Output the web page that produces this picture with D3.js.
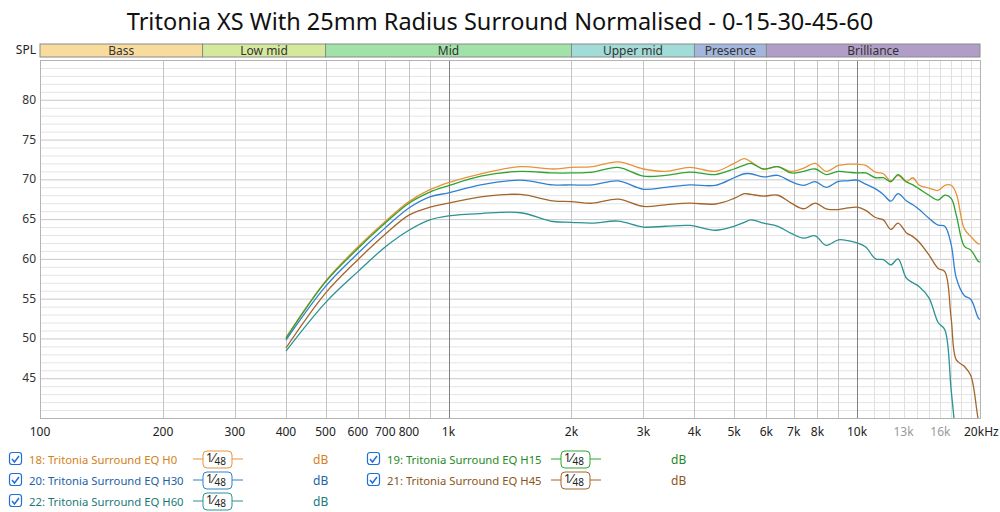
<!DOCTYPE html>
<html>
<head>
<meta charset="utf-8">
<script src="https://cdn.jsdelivr.net/npm/d3@7"></script>
<style>
  body { margin: 0; background: #fff; }
  svg { font-family: "Noto Sans", "Open Sans", sans-serif; }
</style>
</head>
<body>
<div id="chart"></div>
<script>
// frequencies (Hz) shared by every curve
const freqs = [400, 500, 600, 700, 800, 900, 1000, 1200, 1500, 1800, 2000, 2250, 2600, 3000, 3400, 3900,
  4500, 5000, 5300, 5500, 5900, 6400, 6900, 7400, 7900, 8400, 9000, 9500, 10000, 10500, 11100, 11600,
  12100, 12600, 13200, 13700, 14200, 15000, 15800, 16400, 17000, 17500, 18300, 19000, 19800, 20000]

const h0 = [50.1, 57.2, 61.5, 64.7, 67.2, 68.7, 69.6, 70.7, 71.6, 71.3, 71.5, 71.6, 72.2, 71.3, 71.0, 71.5,
  71.0, 72.0, 72.6, 72.2, 71.3, 71.6, 71.0, 71.4, 72.0, 71.0, 71.75, 71.9, 71.9, 71.75, 70.9, 70.7,
  69.8, 70.5, 69.7, 70.2, 69.25, 68.9, 68.6, 69.25, 69.25, 68.2, 63.8, 62.8, 61.9, 61.9]
const h15 = [50.0, 57.1, 61.3, 64.5, 67.0, 68.4, 69.2, 70.4, 71.0, 70.8, 70.8, 70.9, 71.5, 70.4, 70.5, 70.9,
  70.6, 71.3, 71.8, 72.0, 71.3, 71.6, 70.8, 71.0, 71.3, 70.6, 71.0, 70.9, 70.8, 70.8, 70.2, 70.2,
  69.7, 70.6, 69.7, 69.3, 68.8, 68.0, 67.4, 68.0, 67.6, 65.5, 61.6, 61.1, 59.7, 59.6]
const h30 = [49.8, 56.55, 60.7, 63.9, 66.4, 67.8, 68.3, 69.3, 69.9, 69.3, 69.3, 69.3, 69.8, 68.75, 69.0, 69.3,
  69.25, 70.2, 70.7, 70.7, 70.3, 70.5, 69.7, 69.25, 69.7, 69.0, 69.75, 69.8, 69.9, 69.4, 68.8, 68.1,
  67.25, 68.2, 67.3, 66.8, 66.2, 65.1, 64.25, 64.1, 61.8, 57.6, 55.4, 54.9, 52.6, 52.4]
const h45 = [48.8, 55.7, 59.9, 63.1, 65.5, 66.5, 67.0, 67.8, 68.1, 67.3, 67.2, 67.0, 67.5, 66.6, 66.8, 67.0,
  66.9, 67.6, 68.2, 68.1, 67.9, 68.0, 67.0, 66.3, 67.0, 66.3, 66.2, 66.4, 66.5, 66.1, 65.2, 64.9,
  63.7, 64.5, 63.3, 62.8, 62.1, 60.5, 58.8, 58.4, 52.5, 47.3, 46.5, 45.3, 39.9, 39.3]
const h60 = [48.4, 54.5, 58.4, 61.5, 63.6, 64.9, 65.4, 65.7, 65.8, 64.7, 64.6, 64.5, 64.75, 64.0, 64.1, 64.2,
  63.6, 64.1, 64.6, 64.9, 64.5, 64.1, 63.2, 62.6, 62.9, 61.7, 62.4, 62.3, 62.0, 61.5, 60.0, 59.9,
  59.25, 60.0, 57.6, 57.0, 56.5, 55.1, 52.0, 51.1, 43.5, 37.0, null, null, null, null]

const seriesNames = ['18: Tritonia Surround EQ H0', '19: Tritonia Surround EQ H15', '20: Tritonia Surround EQ H30',
  '21: Tritonia Surround EQ H45', '22: Tritonia Surround EQ H60']
const seriesValues = [h0, h15, h30, h45, h60]
const lineColors = ['#e8923a', '#2fa32f', '#2f80d0', '#a4652a', '#2a9393']
const textColors = ['#d4801c', '#1f8a1f', '#1c62a6', '#8c5518', '#177a7a']

const bandNames = ['Bass', 'Low mid', 'Mid', 'Upper mid', 'Presence', 'Brilliance']
const bandEdges = [100, 250, 500, 2000, 4000, 6000, 20000]
const bandColors = ['#f8dc9e', '#d5e99c', '#a0e2a8', '#a2dcd8', '#a2b6de', '#b19ec8']

const yTicks = [45, 50, 55, 60, 65, 70, 75, 80]
const xTicks = [100, 200, 300, 400, 500, 600, 700, 800, 1000, 2000, 3000, 4000, 5000, 6000, 7000, 8000, 10000, 13000, 16000, 20000]
const xTickLabels = ['100', '200', '300', '400', '500', '600', '700', '800', '1k', '2k', '3k', '4k', '5k', '6k', '7k', '8k', '10k', '13k', '16k', '20kHz']

const width = 1000, height = 512
const margin = {top: 60, right: 20, bottom: 94, left: 40}

const svg = d3.select('#chart').append('svg')
  .attr('width', width).attr('height', height)

const x = d3.scaleLog().domain([100, 20000]).range([margin.left, width - margin.right])
const y = d3.scaleLinear().domain([40, 85]).range([height - margin.bottom, margin.top])

// title
svg.append('text')
  .attr('x', 500).attr('y', 30)
  .attr('text-anchor', 'middle')
  .attr('font-size', 23.5)
  .attr('fill', '#111')
  .text('Tritonia XS With 25mm Radius Surround Normalised - 0-15-30-45-60')

// frequency band strip
const bands = bandNames.map((n, i) => ({name: n, f0: bandEdges[i], f1: bandEdges[i + 1], color: bandColors[i]}))
const bandG = svg.append('g')
bandG.selectAll('rect').data(bands).join('rect')
  .attr('x', d => x(d.f0)).attr('y', 44)
  .attr('width', d => x(d.f1) - x(d.f0)).attr('height', 13)
  .attr('fill', d => d.color)
  .attr('stroke', '#8a8a8a').attr('stroke-width', 1)
bandG.selectAll('text').data(bands).join('text')
  .attr('x', d => (x(d.f0) + x(d.f1)) / 2).attr('y', 54.5)
  .attr('text-anchor', 'middle').attr('font-size', 12)
  .attr('fill', '#333')
  .text(d => d.name)

svg.append('text').attr('x', 36).attr('y', 54).attr('text-anchor', 'end')
  .attr('font-size', 12).attr('fill', '#222').text('SPL')

// grid
const grid = svg.append('g')
const minorDb = d3.range(41, 85).filter(v => v % 5 !== 0)
grid.selectAll('line.hmin').data(minorDb).join('line')
  .attr('class', 'hmin')
  .attr('x1', x.range()[0]).attr('x2', x.range()[1])
  .attr('y1', d => y(d) + 0.5).attr('y2', d => y(d) + 0.5)
  .attr('stroke', '#e4e4e4')
grid.selectAll('line.hmaj').data(d3.range(45, 85, 5)).join('line')
  .attr('class', 'hmaj')
  .attr('x1', x.range()[0]).attr('x2', x.range()[1])
  .attr('y1', d => y(d) + 0.5).attr('y2', d => y(d) + 0.5)
  .attr('stroke', '#c8c8c8')

const vLines = []
d3.range(200, 1000, 100).forEach(f => vLines.push({f, c: '#c4c4c4'}))
d3.range(2000, 10000, 1000).forEach(f => vLines.push({f, c: '#c4c4c4'}))
d3.range(11000, 20000, 1000).forEach(f => vLines.push({f, c: '#e0e0e0'}))
vLines.push({f: 1000, c: '#808080'}, {f: 10000, c: '#808080'})
grid.selectAll('line.v').data(vLines).join('line')
  .attr('class', 'v')
  .attr('x1', d => Math.round(x(d.f)) + 0.5).attr('x2', d => Math.round(x(d.f)) + 0.5)
  .attr('y1', y(85)).attr('y2', y(40))
  .attr('stroke', d => d.c)

svg.append('rect')
  .attr('x', x.range()[0] + 0.5).attr('y', y(85) + 0.5)
  .attr('width', x.range()[1] - x.range()[0]).attr('height', y(40) - y(85))
  .attr('fill', 'none').attr('stroke', '#b4b4b4')

// axes labels
svg.append('g').selectAll('text').data(yTicks).join('text')
  .attr('x', 36).attr('y', d => y(d) + 4)
  .attr('text-anchor', 'end').attr('font-size', 12).attr('fill', '#333')
  .text(d => d)

svg.append('g').selectAll('text').data(xTicks).join('text')
  .attr('x', (d, i) => i === xTicks.length - 1 ? x(d) - 16 : x(d))
  .attr('y', 436)
  .attr('text-anchor', (d, i) => i === xTicks.length - 1 ? 'start' : 'middle')
  .attr('font-size', 12)
  .attr('fill', d => (d === 13000 || d === 16000) ? '#9a9a9a' : '#222')
  .text((d, i) => xTickLabels[i])

// curves
svg.append('clipPath').attr('id', 'plotclip').append('rect')
  .attr('x', x.range()[0]).attr('y', y(85))
  .attr('width', x.range()[1] - x.range()[0]).attr('height', y(40) - y(85))

const line = d3.line()
  .defined(d => d[1] != null)
  .x(d => x(d[0])).y(d => y(d[1]))
  .curve(d3.curveCatmullRom.alpha(0.5))

const drawOrder = [4, 3, 2, 0, 1]
svg.append('g').attr('clip-path', 'url(#plotclip)')
  .selectAll('path').data(drawOrder).join('path')
  .attr('d', i => line(freqs.map((f, k) => [f, seriesValues[i][k]])))
  .attr('fill', 'none')
  .attr('stroke', i => lineColors[i])
  .attr('stroke-width', 1.3)

// legend
const legendPos = [[9, 459], [367, 459], [9, 480], [367, 480], [9, 501]]
const leg = svg.append('g').selectAll('g').data(seriesNames).join('g')
  .attr('transform', (d, i) => `translate(${legendPos[i][0]},${legendPos[i][1]})`)

leg.append('rect')
  .attr('x', 0.5).attr('y', -6.5).attr('width', 12).attr('height', 12).attr('rx', 2.5)
  .attr('fill', '#fff').attr('stroke', '#1f6fd6').attr('stroke-width', 1.2)
leg.append('path')
  .attr('d', 'M3,0 L5.5,3 L10,-3')
  .attr('fill', 'none').attr('stroke', '#1f6fd6').attr('stroke-width', 1.5)
leg.append('text')
  .attr('x', 20).attr('y', 4.5)
  .attr('font-size', 11.3)
  .attr('fill', (d, i) => textColors[i])
  .text(d => d)

leg.append('line')
  .attr('x1', 184).attr('x2', 234).attr('y1', 0).attr('y2', 0)
  .attr('stroke', (d, i) => lineColors[i])
leg.append('rect')
  .attr('x', 194).attr('y', -8).attr('width', 29).attr('height', 17).attr('rx', 4)
  .attr('fill', '#fff').attr('stroke', (d, i) => lineColors[i])
const frac = leg.append('text').attr('x', 197).attr('y', 3).attr('fill', '#222')
frac.append('tspan').attr('font-size', 12).text('1')
frac.append('tspan').attr('font-size', 13).attr('dx', 0).text('⁄')
frac.append('tspan').attr('font-size', 10).attr('dy', 3).attr('dx', 0).text('48')

leg.append('text')
  .attr('x', 304).attr('y', 4.5)
  .attr('font-size', 12)
  .attr('fill', (d, i) => textColors[i])
  .text('dB')
</script>
</body>
</html>
